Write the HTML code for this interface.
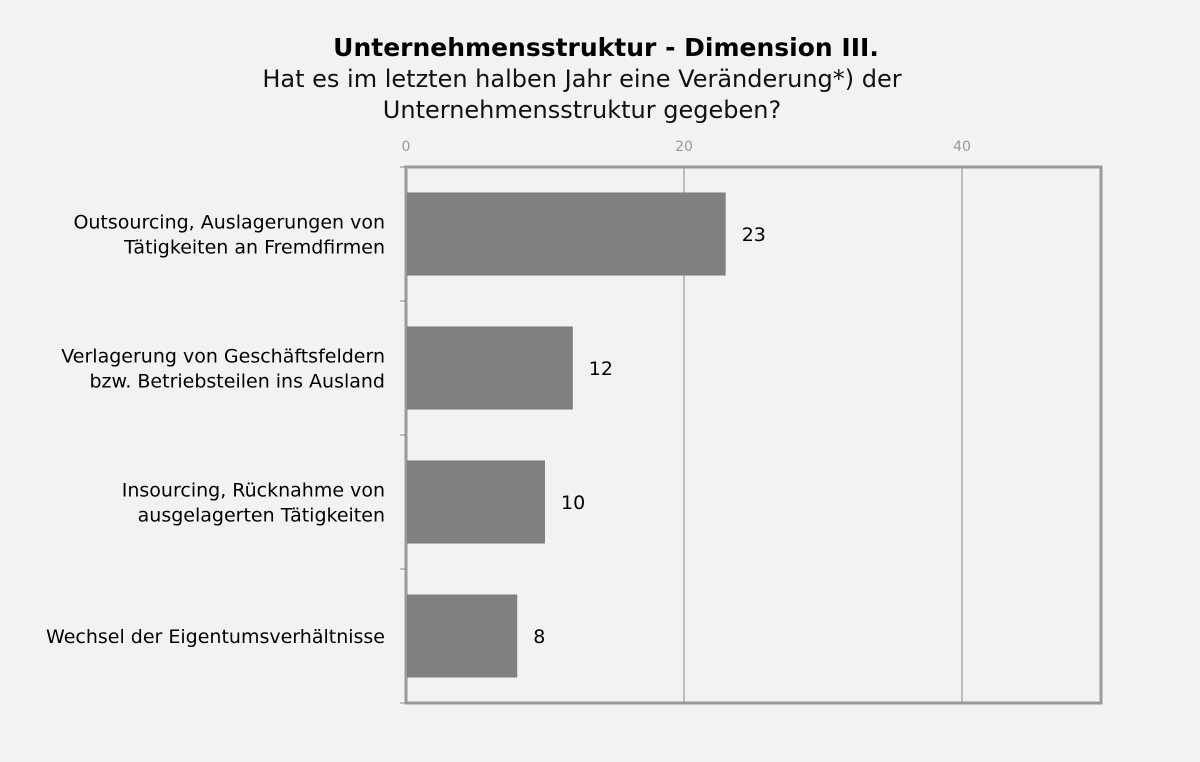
<!DOCTYPE html>
<html><head><meta charset="utf-8"><style>
body{margin:0;background:#f2f2f2;}
svg{display:block;font-family:"DejaVu Sans","Liberation Sans",sans-serif;}
</style></head><body>
<svg id="chart" width="1200" height="762">
<rect width="1200" height="762" fill="#f2f2f2"/>
<text x="606" y="56" text-anchor="middle" font-size="25" font-weight="bold" fill="#000">Unternehmensstruktur - Dimension III.</text>
<text x="582" y="87" text-anchor="middle" font-size="24" fill="#111">Hat es im letzten halben Jahr eine Veränderung*) der</text>
<text x="582" y="118" text-anchor="middle" font-size="24" fill="#111">Unternehmensstruktur gegeben?</text>
<g id="grid"></g>
<g id="bars"></g>
<g id="labels"></g>
</svg>
<script>
const categories = [
 ["Outsourcing, Auslagerungen von","Tätigkeiten an Fremdfirmen"],
 ["Verlagerung von Geschäftsfeldern","bzw. Betriebsteilen ins Ausland"],
 ["Insourcing, Rücknahme von","ausgelagerten Tätigkeiten"],
 ["Wechsel der Eigentumsverhältnisse"]
];
const values = [23, 12, 10, 8];
const tickValues = [0, 20, 40];
const tickLabels = ["0", "20", "40"];

const NS = "http://www.w3.org/2000/svg";
const L = 406, R = 1101, T = 167, B = 703, xMax = 50;
const x = v => L + (v / xMax) * (R - L);
const band = (B - T) / categories.length;
const y = i => T + i * band;
function mk(tag, attrs, parent) {
  const e = document.createElementNS(NS, tag);
  for (const k in attrs) e.setAttribute(k, attrs[k]);
  parent.appendChild(e);
  return e;
}
const grid = document.getElementById("grid"), bars = document.getElementById("bars"), labels = document.getElementById("labels");
// gridlines and tick labels
tickValues.forEach((v, i) => {
  if (v > 0) {
    const g = mk("line", {x1: x(v), x2: x(v), y1: T, y2: B, stroke: "#888", "stroke-width": 1}, grid);
    
    
  }
  const t = mk("text", {x: x(v), y: 151, "text-anchor": "middle", "font-size": 14, fill: "#999"}, grid);
  t.textContent = tickLabels[i];
  
  
});
// frame
const fr = mk("rect", {x: L, y: T, width: R - L, height: B - T, fill: "none", stroke: "#999", "stroke-width": 3}, grid);


// category ticks
for (let i = 0; i <= categories.length; i++) {
  const tk = mk("line", {x1: 400, x2: L, y1: y(i), y2: y(i), stroke: "#888", "stroke-width": 1}, grid);
  
  
}
// bars
values.forEach((v, i) => {
  const bh = band * 0.62;
  const by = y(i) + (band - bh) / 2;
  const b = mk("rect", {x: L + 1, y: by, width: x(v) - L - 1, height: bh, fill: "#808080"}, bars);
  
  
  const vl = mk("text", {x: x(v) + 16, y: y(i) + band / 2 + 7, "font-size": 19, fill: "#000"}, labels);
  vl.textContent = String(v);
  
  
  const lines = categories[i];
  lines.forEach((ln, j) => {
    const cy = y(i) + band / 2 + 7 + (j - (lines.length - 1) / 2) * 25;
    const cl = mk("text", {x: 385, y: cy, "text-anchor": "end", "font-size": 19, fill: "#000"}, labels);
    cl.textContent = ln;
    
    
  });
});
</script>
</body></html>
